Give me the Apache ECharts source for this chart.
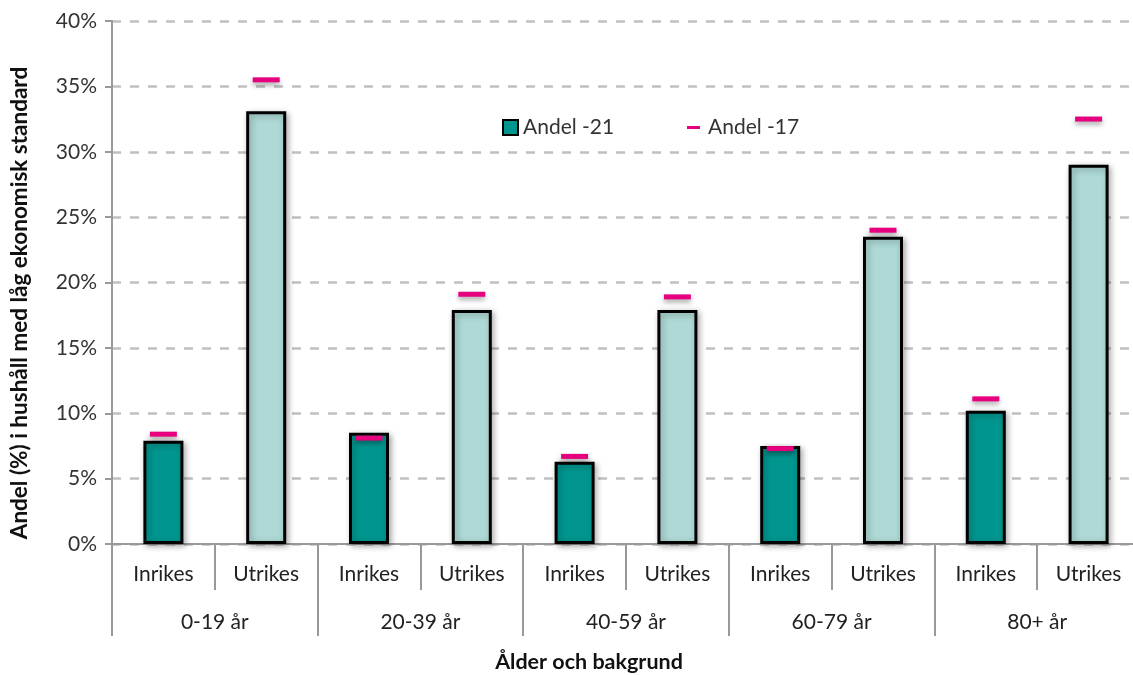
<!DOCTYPE html>
<html>
<head>
<meta charset="utf-8">
<script src="https://cdn.jsdelivr.net/npm/echarts@6/dist/echarts.min.js"></script>
<style>
html,body{margin:0;padding:0;background:#fff;}
#chart{width:1133px;height:675px;}
</style>
</head>
<body>
<div id="chart"></div>
<script>
const groups = ['0-19 år', '20-39 år', '40-59 år', '60-79 år', '80+ år'];
const categories = ['Inrikes', 'Utrikes', 'Inrikes', 'Utrikes', 'Inrikes', 'Utrikes', 'Inrikes', 'Utrikes', 'Inrikes', 'Utrikes'];
const andel21 = [7.9, 33.1, 8.5, 17.9, 6.3, 17.9, 7.5, 23.5, 10.2, 29.0];
const andel17 = [8.4, 35.5, 8.1, 19.1, 6.7, 18.9, 7.3, 24.0, 11.1, 32.5];
const yTicks = [0, 5, 10, 15, 20, 25, 30, 35, 40];

const FONT = 'Lato';
const TEAL = '#00968F';
const LIGHT = '#AED9D5';
const PINK = '#E6007E';

const chart = echarts.init(document.getElementById('chart'));
chart.setOption({
  animation: false,
  backgroundColor: '#fff',
  textStyle: { fontFamily: FONT },
  grid: { left: 112, width: 1028, top: 21, height: 523, containLabel: false, outerBoundsMode: 'none' },
  legend: [
    {
      left: 497, top: 112,
      itemWidth: 15, itemHeight: 15, itemGap: 20,
      data: [{ name: 'Andel -21', icon: 'rect' }],
      textStyle: { fontFamily: FONT, fontSize: 21, color: '#333' }
    },
    {
      left: 682, top: 112,
      itemWidth: 13, itemHeight: 3,
      data: [{ name: 'Andel -17', icon: 'rect' }],
      textStyle: { fontFamily: FONT, fontSize: 21, color: '#333', padding: [0, 0, 0, 3] }
    }
  ],
  xAxis: [
    {
      type: 'category', data: categories, position: 'bottom',
      axisLine: { show: true, lineStyle: { color: '#999', width: 2 } },
      axisTick: { show: true, length: 46, lineStyle: { color: '#999', width: 2 } },
      axisLabel: { fontFamily: FONT, fontSize: 21, color: '#222', margin: 20 },
      splitLine: { show: false }
    },
    {
      type: 'category', data: groups, position: 'bottom', offset: 0,
      axisLine: { show: false },
      axisTick: { show: true, length: 92, lineStyle: { color: '#999', width: 2 } },
      axisLabel: { fontFamily: FONT, fontSize: 21, color: '#222', margin: 68 },
      splitLine: { show: false }
    }
  ],
  yAxis: {
    type: 'value', min: yTicks[0], max: yTicks[yTicks.length - 1], interval: 5,
    axisLine: { show: true, lineStyle: { color: '#999', width: 2 } },
    axisTick: { show: true, length: 7, lineStyle: { color: '#999', width: 2 } },
    axisLabel: { fontFamily: FONT, fontSize: 21, color: '#333', margin: 15, formatter: '{value}%' },
    splitLine: { show: true, lineStyle: { color: '#C0C0C0', width: 2.5, type: [9, 9] } }
  },
  graphic: [
    {
      type: 'text', x: 20, y: 303, rotation: Math.PI / 2,
      style: {
        text: 'Andel (%) i hushåll med låg ekonomisk standard',
        fontFamily: FONT, fontWeight: 'bold', fontSize: 22.5, fill: '#111',
        textAlign: 'center', textVerticalAlign: 'middle'
      }
    },
    {
      type: 'text', x: 589, y: 662,
      style: {
        text: 'Ålder och bakgrund',
        fontFamily: FONT, fontWeight: 'bold', fontSize: 21.5, fill: '#111',
        textAlign: 'center', textVerticalAlign: 'middle'
      }
    }
  ],
  series: [
    {
      name: 'Andel -21', type: 'bar', xAxisIndex: 0, barWidth: 40,
      itemStyle: {
        color: TEAL, borderColor: '#000', borderWidth: 3,
        shadowBlur: 6, shadowColor: 'rgba(0,0,0,0.3)', shadowOffsetX: 2, shadowOffsetY: 2
      },
      data: andel21.map((v, i) => ({ value: v, itemStyle: { color: i % 2 === 0 ? TEAL : LIGHT } }))
    },
    {
      name: 'Andel -17', type: 'scatter', xAxisIndex: 0,
      symbol: 'rect', symbolSize: [27, 5], z: 5,
      itemStyle: { color: PINK, opacity: 1, shadowBlur: 5, shadowColor: 'rgba(0,0,0,0.35)', shadowOffsetY: 3 },
      data: andel17
    }
  ]
});
</script>
</body>
</html>
